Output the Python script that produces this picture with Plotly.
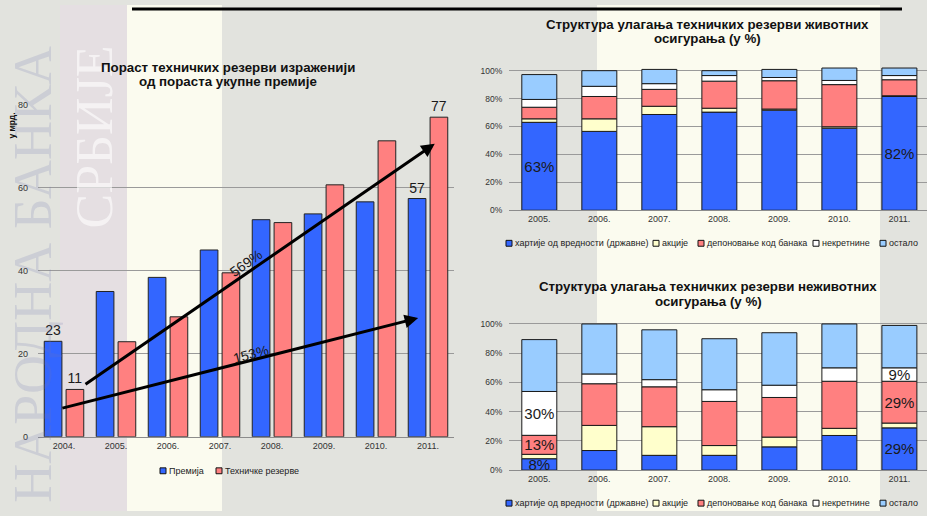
import plotly.graph_objects as go

W, H = 927, 516

# Лева слика: премија и техничке резерве (у мрд.)
years_left = ["2004.", "2005.", "2006.", "2007.", "2008.", "2009.", "2010.", "2011."]
premija = [23, 35, 38.4, 45, 52.3, 53.7, 56.6, 57.4]
rezerve = [11.4, 22.9, 28.9, 39.5, 51.6, 60.7, 71.3, 77]
premija_labels = ["23", "", "", "", "", "", "", "57"]
rezerve_labels = ["11", "", "", "", "", "", "", "77"]
growth_labels = ["569%", "153%"]

# Десне слике: структура улагања (у %)
years_right = ["2005.", "2006.", "2007.", "2008.", "2009.", "2010.", "2011."]
series_names = ["хартије од вредности (државне)", "акције", "депоновање код банака",
                "некретнине", "остало"]
series_colors = ["#3366FF", "#FFFFCC", "#FF8080", "#FFFFFF", "#99CCFF"]

# животна осигурања
hartije_z = [63, 56.5, 68.6, 70.3, 71.7, 58.8, 81.5]
akcije_z = [2.5, 9, 5.9, 2.8, 0.8, 1, 0.5]
depon_z = [8.3, 16, 12.1, 19.4, 20.3, 30.2, 11.5]
nekr_z = [5.6, 7.3, 4.1, 4, 2.3, 3, 3]
ostalo_z = [17.8, 11.2, 10.2, 3.5, 5.8, 8.9, 5.4]
labels_z = [["63%", "", "", "", "", "", "82%"], None, None, None, None]

# неживотна осигурања
hartije_n = [7.8, 13.4, 10.1, 10.1, 15.9, 23.7, 28.9]
akcije_n = [3, 17.2, 19.6, 6.7, 6.7, 4.9, 3.3]
depon_n = [13, 28.5, 27.3, 30.2, 27.1, 32.2, 28.6]
nekr_n = [30, 6.7, 4.9, 8, 8.4, 9.2, 9.2]
ostalo_n = [35.5, 34.2, 34.1, 34.9, 35.9, 30, 29]
labels_n = [["8%", "", "", "", "", "", "29%"], None,
            ["13%", "", "", "", "", "", "29%"],
            ["30%", "", "", "", "", "", "9%"], None]

FONT = "Liberation Sans, Arial, sans-serif"
TXT = "#1a1a1a"


def px(x):
    return x / W


def py(y):
    return 1 - y / H


fig = go.Figure()

# груписани стубићи (лево)
fig.add_trace(go.Bar(x=years_left, y=premija, name="Премија", xaxis="x", yaxis="y",
                     marker=dict(color="#3366FF", line=dict(color="#222", width=1)),
                     width=0.34, offset=-0.38, text=premija_labels, textposition="outside",
                     constraintext="none", cliponaxis=False,
                     textfont=dict(size=14, color=TXT, family=FONT)))
fig.add_trace(go.Bar(x=years_left, y=rezerve, name="Техничке резерве", xaxis="x", yaxis="y",
                     marker=dict(color="#FF8080", line=dict(color="#222", width=1)),
                     width=0.34, offset=0.04, text=rezerve_labels, textposition="outside",
                     constraintext="none", cliponaxis=False,
                     textfont=dict(size=14, color=TXT, family=FONT)))


def add_stack(series, labels, xa, ya):
    base = [0] * len(years_right)
    for vals, name, color, lab in zip(series, series_names, series_colors, labels):
        fig.add_trace(go.Bar(x=years_right, y=vals, base=base, name=name, xaxis=xa, yaxis=ya,
                             marker=dict(color=color, line=dict(color="#1a1a1a", width=1)),
                             width=0.583, offset=-0.2915,
                             text=lab, textposition="inside" if lab else "none",
                             insidetextanchor="middle", constraintext="none", textangle=0,
                             textfont=dict(size=15, color=TXT, family=FONT),
                             showlegend=False))
        base = [b + v for b, v in zip(base, vals)]


add_stack([hartije_z, akcije_z, depon_z, nekr_z, ostalo_z], labels_z, "x2", "y2")
add_stack([hartije_n, akcije_n, depon_n, nekr_n, ostalo_n], labels_n, "x3", "y3")

tickf = dict(size=9, color="#333", family=FONT)
common_x = dict(type="category", showgrid=False, showline=True, linecolor="#8c8c8c",
                ticks="", tickfont=tickf, fixedrange=True)
common_y = dict(showgrid=True, gridcolor="#9a9a9a", gridwidth=1, zeroline=False,
                showline=False, tickfont=dict(size=8.5, color="#333", family=FONT),
                ticklabelstandoff=6, fixedrange=True)

# фон слајда: сиве и крем траке
shapes = [
    dict(type="rect", xref="paper", yref="paper", x0=px(60), x1=px(127), y0=0, y1=1,
         fillcolor="#e5dfe2", line_width=0, layer="below"),
    dict(type="rect", xref="paper", yref="paper", x0=px(127), x1=px(222), y0=0, y1=1,
         fillcolor="#fbfbef", line_width=0, layer="below"),
    dict(type="rect", xref="paper", yref="paper", x0=px(597), x1=px(880), y0=0, y1=1,
         fillcolor="#fbfbef", line_width=0, layer="below"),
    dict(type="line", xref="paper", yref="paper", x0=px(132), x1=px(902), y0=py(4), y1=py(4),
         line=dict(color="black", width=3)),
]


def note(text, x, y, size, color="#111", angle=0, family=FONT, xanchor="center"):
    return dict(text=text, x=px(x), y=py(y), xref="paper", yref="paper",
                xanchor=xanchor, yanchor="middle", textangle=angle, showarrow=False,
                font=dict(size=size, color=color, family=family))


annotations = [
    # воден жиг (провидан, да се ознаке осе виде кроз њега)
    note("НАРОДНА БАНКА", 33, 275, 54, "rgba(110,115,175,0.19)", -90, "Liberation Serif, serif"),
    note("СРБИЈЕ", 94, 135, 52, "rgba(255,255,255,0.6)", -90, "Liberation Serif, serif"),
    # наслови
    note("<b>Пораст техничких резерви израженији</b>", 228, 63.3, 13.3),
    note("<b>од пораста укупне премије</b>", 228, 77.7, 13.3),
    note("<b>Структура улагања техничких резерви животних</b>", 707, 20, 13.3),
    note("<b>осигурања (у %)</b>", 707, 34.5, 13.3),
    note("<b>Структура улагања техничких резерви неживотних</b>", 708, 286.7, 13.3),
    note("<b>осигурања (у %)</b>", 708, 302.5, 13.3),
    note("<b>у мрд.</b>", 12, 123, 8.5, angle=-90),
    # стрелице раста
    dict(x=7.13, y=70.6, ax=0.385, ay=12.4, xref="x", yref="y", axref="x", ayref="y",
         text="", showarrow=True, arrowhead=2, arrowsize=0.9, arrowwidth=3, arrowcolor="black"),
    dict(x=6.81, y=28.6, ax=-0.06, ay=6.8, xref="x", yref="y", axref="x", ayref="y",
         text="", showarrow=True, arrowhead=2, arrowsize=0.9, arrowwidth=3, arrowcolor="black"),
    dict(x=3.5, y=41.9, xref="x", yref="y", text=growth_labels[0], textangle=-35,
         xanchor="center", yanchor="middle",
         showarrow=False, font=dict(size=14, color=TXT, family=FONT)),
    dict(x=3.6, y=19.9, xref="x", yref="y", text=growth_labels[1], textangle=-14.5,
         xanchor="center", yanchor="middle",
         showarrow=False, font=dict(size=14, color=TXT, family=FONT)),
]


# легенде: квадратић + текст
def legend_item(x, y, color, label):
    shapes.append(dict(type="rect", xref="paper", yref="paper",
                       x0=px(x), x1=px(x + 6), y0=py(y + 3), y1=py(y - 3),
                       fillcolor=color, line=dict(color="#111", width=1)))
    annotations.append(note(label, x + 7, y, 9, "#222", xanchor="left"))


legend_item(160, 475, "#3366FF", "Премија")
legend_item(216, 475, "#FF8080", "Техничке резерве")
right_legend_x = [506, 653, 698, 813, 880]
for yy in (243, 508):
    for lx, col, nm in zip(right_legend_x, series_colors, series_names):
        legend_item(lx, yy, col, nm)

fig.update_layout(
    width=W, height=H, margin=dict(l=0, r=0, t=0, b=0),
    paper_bgcolor="#e2e3de", plot_bgcolor="rgba(0,0,0,0)",
    barmode="overlay", showlegend=False,
    font=dict(family=FONT, color="#333"),
    xaxis=dict(common_x, domain=[px(38), px(454)], range=[-0.5, 7.5], anchor="y"),
    yaxis=dict(common_y, domain=[py(440.3), py(101.7)], range=[0, 80], dtick=20,
               anchor="x", tickfont=tickf, ticklabelstandoff=9),
    xaxis2=dict(common_x, domain=[px(509.3), 1], range=[-0.5, 6.46], anchor="y2"),
    yaxis2=dict(common_y, domain=[py(209.3), py(62.7)], range=[0, 103],
                tick0=0, dtick=20, ticksuffix="%", anchor="x2"),
    xaxis3=dict(common_x, domain=[px(509.3), 1], range=[-0.5, 6.46], anchor="y3"),
    yaxis3=dict(common_y, domain=[py(474.3), py(320.8)], range=[0, 103],
                tick0=0, dtick=20, ticksuffix="%", anchor="x3"),
    shapes=shapes, annotations=annotations,
)

fig.write_html("out.html", config={"displayModeBar": False},
               post_script="document.body.style.margin = '0';")
